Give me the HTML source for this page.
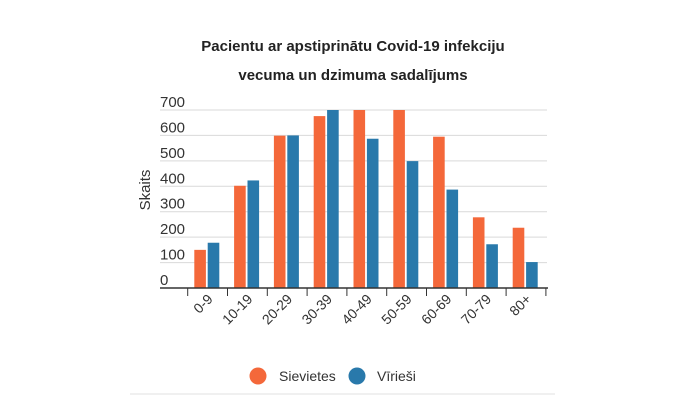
<!DOCTYPE html>
<html><head><meta charset="utf-8"><style>
body{margin:0;background:#fff;width:700px;height:409px;overflow:hidden;font-family:"Liberation Sans",sans-serif;}
</style></head><body>
<svg id="chart" width="700" height="409" xmlns="http://www.w3.org/2000/svg" font-family="Liberation Sans, sans-serif">
<text x="353" y="51" text-anchor="middle" font-size="15" font-weight="bold" fill="#222">Pacientu ar apstiprinātu Covid-19 infekciju</text>
<text x="353" y="80" text-anchor="middle" font-size="15" font-weight="bold" fill="#222">vecuma un dzimuma sadalījums</text>
<text transform="translate(150,190) rotate(-90)" text-anchor="middle" font-size="15" fill="#333">Skaits</text>
<g id="grid"></g>
<g id="bars"></g>
<g id="xaxis"></g>
<g>
<circle cx="258" cy="376" r="8.5" fill="#f4683a"/>
<text x="279" y="381" font-size="14" fill="#333">Sievietes</text>
<circle cx="357" cy="376" r="8.5" fill="#2979ab"/>
<text x="377" y="381" font-size="14" fill="#333">Vīrieši</text>
</g>
<line x1="130" y1="394" x2="555" y2="394" stroke="#e0e0e0" stroke-width="1"/>
</svg>
<script>
const categories=["0-9","10-19","20-29","30-39","40-49","50-59","60-69","70-79","80+"];
const sievietes=[150,402,599,676,700,700,595,278,237];
const virieši=[178,423,600,700,587,499,387,172,102];
const yTicks=[0,100,200,300,400,500,600,700];
const NS="http://www.w3.org/2000/svg";
const x0=187.7,band=39.8,yBase=288,yTop=110,yMax=700,plotL=160,plotR=547;
const y=v=>yBase-(v/yMax)*(yBase-yTop);
const xb=i=>x0+i*band;
function mk(tag,attrs,parent){const e=document.createElementNS(NS,tag);for(const k in attrs)e.setAttribute(k,attrs[k]);parent.appendChild(e);return e;}
const grid=document.getElementById('grid');
yTicks.forEach(t=>{
  if(t>0){const l=mk('line',{x1:plotL,x2:plotR,y1:y(t),y2:y(t),stroke:'#d9d9d9','stroke-width':1},grid);
  
  }
  const tx=mk('text',{x:plotL,y:y(t)-3,'font-size':15,fill:'#333'},grid);
  tx.textContent=t;
  
  
});
const bars=document.getElementById('bars');
const bw=11.6;
categories.forEach((c,i)=>{
  const a=mk('rect',{x:xb(i)+6.6,y:y(sievietes[i]),width:bw,height:yBase-y(sievietes[i]),fill:'#f4683a'},bars);
  
  
  const b=mk('rect',{x:xb(i)+20,y:y(virieši[i]),width:bw,height:yBase-y(virieši[i]),fill:'#2979ab'},bars);
  
  
});
const xa=document.getElementById('xaxis');
const al=mk('line',{x1:plotL,x2:plotR+1,y1:yBase,y2:yBase,stroke:'#333','stroke-width':1.5},xa);


for(let i=0;i<=categories.length;i++){
  const t=mk('line',{x1:xb(i),x2:xb(i),y1:yBase,y2:yBase+8,stroke:'#333','stroke-width':1},xa);
  
  
}
categories.forEach((c,i)=>{
  const cx=xb(i)+band/2+6,cy=yBase+12;
  const t=mk('text',{x:cx,y:cy,'text-anchor':'end','font-size':14,fill:'#333',transform:`rotate(-45 ${cx} ${cy})`},xa);
  t.textContent=c;
  
  
});
</script>
</body></html>
